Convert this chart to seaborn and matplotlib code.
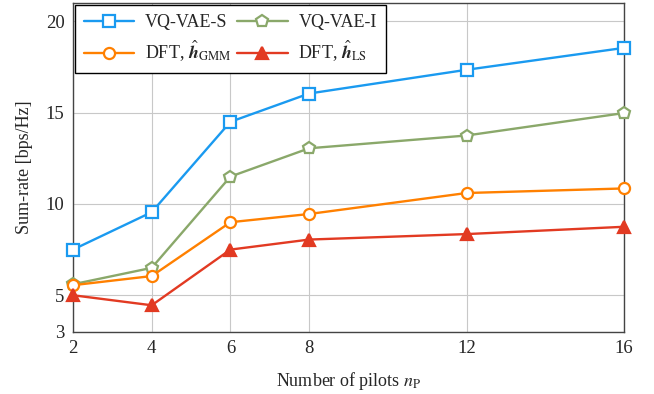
import matplotlib
matplotlib.use("Agg")
import matplotlib.pyplot as plt
import seaborn as sns
import pandas as pd

pilots = [2, 4, 6, 8, 12, 16]
vqvae_s = [7.5, 9.55, 14.5, 16.05, 17.35, 18.55]
vqvae_i = [5.6, 6.5, 11.5, 13.05, 13.75, 14.98]
dft_gmm = [5.55, 6.05, 9.0, 9.45, 10.6, 10.85]
dft_ls = [5.0, 4.45, 7.5, 8.05, 8.35, 8.75]

labels = ["VQ-VAE-S", "VQ-VAE-I",
          r"DFT, $\hat{\boldsymbol{h}}_{\mathrm{GMM}}$",
          r"DFT, $\hat{\boldsymbol{h}}_{\mathrm{LS}}$"]
series = [vqvae_s, vqvae_i, dft_gmm, dft_ls]
colors = ["#1a9af0", "#8aa86a", "#ff8000", "#e23a22"]
markers = ["s", "p", "o", "^"]
filled = [False, False, False, True]

yticks = [3, 5, 10, 15, 20]

sns.set_style("white")
plt.rcParams["font.family"] = ["Liberation Serif", "DejaVu Serif"]
plt.rcParams["mathtext.fontset"] = "stix"

fig = plt.figure(figsize=(6.54, 3.94), dpi=100)
ax = fig.add_axes([0.1116, 0.158, 0.8425, 0.834])

for lab, vals, c, m, f in zip(labels, series, colors, markers, filled):
    df = pd.DataFrame({"x": pilots, "y": vals})
    sns.lineplot(data=df, x="x", y="y", ax=ax, color=c, marker=m,
                 markersize=8 if m != "p" else 9, linewidth=1.7,
                 markerfacecolor=c if f else "white",
                 markeredgecolor=c, markeredgewidth=1.6, label=lab,
                 clip_on=False, zorder=3)

ax.set_xlim(2, 16)
ax.set_ylim(3, 21)
ax.set_xticks(pilots)
ax.set_xticklabels([str(p) for p in pilots])
ax.set_yticks(yticks)
ax.set_yticklabels([str(t) for t in yticks])
ax.grid(True, color="#c8c8c8", linewidth=0.8)
ax.set_axisbelow(True)
for s in ax.spines.values():
    s.set_color("#444444")
    s.set_linewidth(1.0)
    s.set_zorder(2.5)
ax.tick_params(axis="both", labelsize=13.5, length=0, pad=6)
ax.set_xlabel(r"Number of pilots $n_{\mathrm{P}}$", fontsize=13, labelpad=9)
ax.set_ylabel("Sum-rate [bps/Hz]", fontsize=13, labelpad=9)

h, l = ax.get_legend_handles_labels()
order = [0, 2, 1, 3]
leg = ax.legend([h[i] for i in order], [l[i] for i in order],
                loc="upper left", ncol=2, fontsize=13, frameon=True,
                fancybox=False, edgecolor="black", borderaxespad=0.1,
                columnspacing=0.3, handlelength=2.8, handletextpad=0.6,
                borderpad=0.5, labelspacing=0.45)
leg.get_frame().set_linewidth(1.0)
leg.get_frame().set_alpha(1)
leg.set_zorder(5)

fig.savefig("out.png", dpi=100)
